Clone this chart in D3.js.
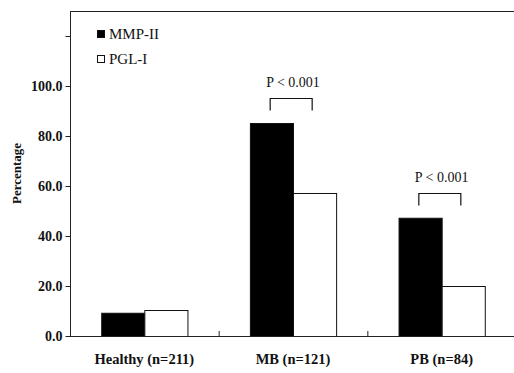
<!DOCTYPE html>
<html>
<head>
<meta charset="utf-8">
<script src="https://cdn.jsdelivr.net/npm/d3@7"></script>
<style>
  body { margin: 0; background: white; }
  text { font-family: "Liberation Serif", "Times New Roman", serif; }
</style>
</head>
<body>
<div id="figure"></div>
<script>
// data
const categories = ['Healthy (n=211)', 'MB (n=121)', 'PB (n=84)']
const series = ['MMP-II', 'PGL-I']
const mmp = [9.3, 85.2, 47.3]
const pgl = [10.4, 57.2, 20.0]
const pLabels = ['', 'P < 0.001', 'P < 0.001']
const yTicks = [0, 20, 40, 60, 80, 100, 120]

const width = 514
const height = 373
const margin = { TOP: 11, LEFT: 70, RIGHT: -2, BOTTOM: 37 }

const svg = d3.select('#figure').append('svg').attr('width', width).attr('height', height).attr('style', 'background:white')

const scaleY = d3.scaleLinear().domain([0, 130]).range([height - margin.BOTTOM, margin.TOP])
const scaleX = d3.scaleBand().domain(categories).range([margin.LEFT, width - margin.RIGHT])
const bw = scaleX.bandwidth()
const scaleS = d3.scaleBand().domain(series).range([bw / 2 - bw * 0.29, bw / 2 + bw * 0.29])

/**
 * frame
 */
svg.append('line').attr('x1', margin.LEFT).attr('x2', width).attr('y1', margin.TOP + 0.5).attr('y2', margin.TOP + 0.5).attr('stroke', '#222')

/**
 * y axis
 */
const axisLeft = d3.axisLeft(scaleY).tickValues(yTicks).tickSize(5).tickSizeOuter(0)
  .tickFormat(d => d === 120 ? '' : d3.format('.1f')(d))
const yAxis = svg.append('g').attr('transform', `translate(${margin.LEFT + 0.5},0)`).call(axisLeft)
yAxis.select('.domain').attr('d', `M0,${margin.TOP}V${scaleY(0)}`).attr('stroke', '#222')
yAxis.selectAll('.tick line').attr('stroke', '#222')
yAxis.selectAll('.tick text').attr('font-size', 14).attr('font-weight', 'bold').attr('fill', '#111')
  .attr('font-family', '"Liberation Serif", serif').attr('x', -8)

svg.append('text').text('Percentage')
  .attr('transform', `translate(21,${scaleY(65)}) rotate(-90)`)
  .attr('text-anchor', 'middle').attr('font-size', 13).attr('font-weight', 'bold').attr('fill', '#111')

/**
 * bars
 */
const rows = categories.map((c, i) => ({ cat: c, vals: [mmp[i], pgl[i]], p: pLabels[i] }))

const groups = svg.append('g').selectAll('g').data(rows).enter().append('g')
  .attr('transform', d => `translate(${scaleX(d.cat)},0)`)

groups.selectAll('rect').data(d => d.vals.map((v, j) => ({ s: series[j], v: v }))).enter().append('rect')
  .attr('x', d => scaleS(d.s) + 0.5)
  .attr('width', scaleS.bandwidth())
  .attr('y', d => scaleY(d.v) + 0.5)
  .attr('height', d => scaleY(0) - scaleY(d.v))
  .attr('fill', d => d.s === series[0] ? '#000' : '#fff')
  .attr('stroke', '#111')
  .attr('stroke-width', 1)

/**
 * significance brackets
 */
const sig = groups.filter(d => d.p !== '')
sig.append('path')
  .attr('d', d => {
    const x1 = Math.round(scaleS(series[0]) + scaleS.bandwidth() / 2) - 1.5
    const x2 = Math.round(scaleS(series[1]) + scaleS.bandwidth() / 2) - 2.5
    const top = Math.round(scaleY(d3.max(d.vals)) - 25) + 0.5
    return `M${x1},${top + 12}V${top}H${x2}V${top + 12}`
  })
  .attr('fill', 'none').attr('stroke', '#111').attr('stroke-width', 1.2)
sig.append('text').text(d => d.p)
  .attr('x', bw / 2)
  .attr('y', d => scaleY(d3.max(d.vals)) - 36)
  .attr('text-anchor', 'middle').attr('font-size', 14).attr('fill', '#111')

/**
 * x axis
 */
svg.append('line').attr('x1', margin.LEFT).attr('x2', width).attr('y1', scaleY(0) + 0.5).attr('y2', scaleY(0) + 0.5).attr('stroke', '#222')
svg.append('g').selectAll('line').data(categories.slice(1)).enter().append('line')
  .attr('x1', d => scaleX(d) + 0.5).attr('x2', d => scaleX(d) + 0.5)
  .attr('y1', scaleY(0)).attr('y2', scaleY(0) - 5).attr('stroke', '#222')

svg.append('g').selectAll('text').data(categories).enter().append('text').text(d => d)
  .attr('x', d => scaleX(d) + bw / 2)
  .attr('y', height - 9)
  .attr('text-anchor', 'middle').attr('font-size', 14.5).attr('font-weight', 'bold').attr('fill', '#111')

/**
 * legend
 */
const legend = svg.append('g').attr('transform', 'translate(97,30)')
series.forEach((s, i) => {
  legend.append('rect').attr('x', 0.5).attr('y', i * 25 + 0.5).attr('width', 7).attr('height', 7)
    .attr('fill', i === 0 ? '#000' : '#fff').attr('stroke', '#111')
  legend.append('text').text(s).attr('x', 12).attr('y', i * 25 + 8.5)
    .attr('font-size', 15).attr('fill', '#111')
})
</script>
</body>
</html>
